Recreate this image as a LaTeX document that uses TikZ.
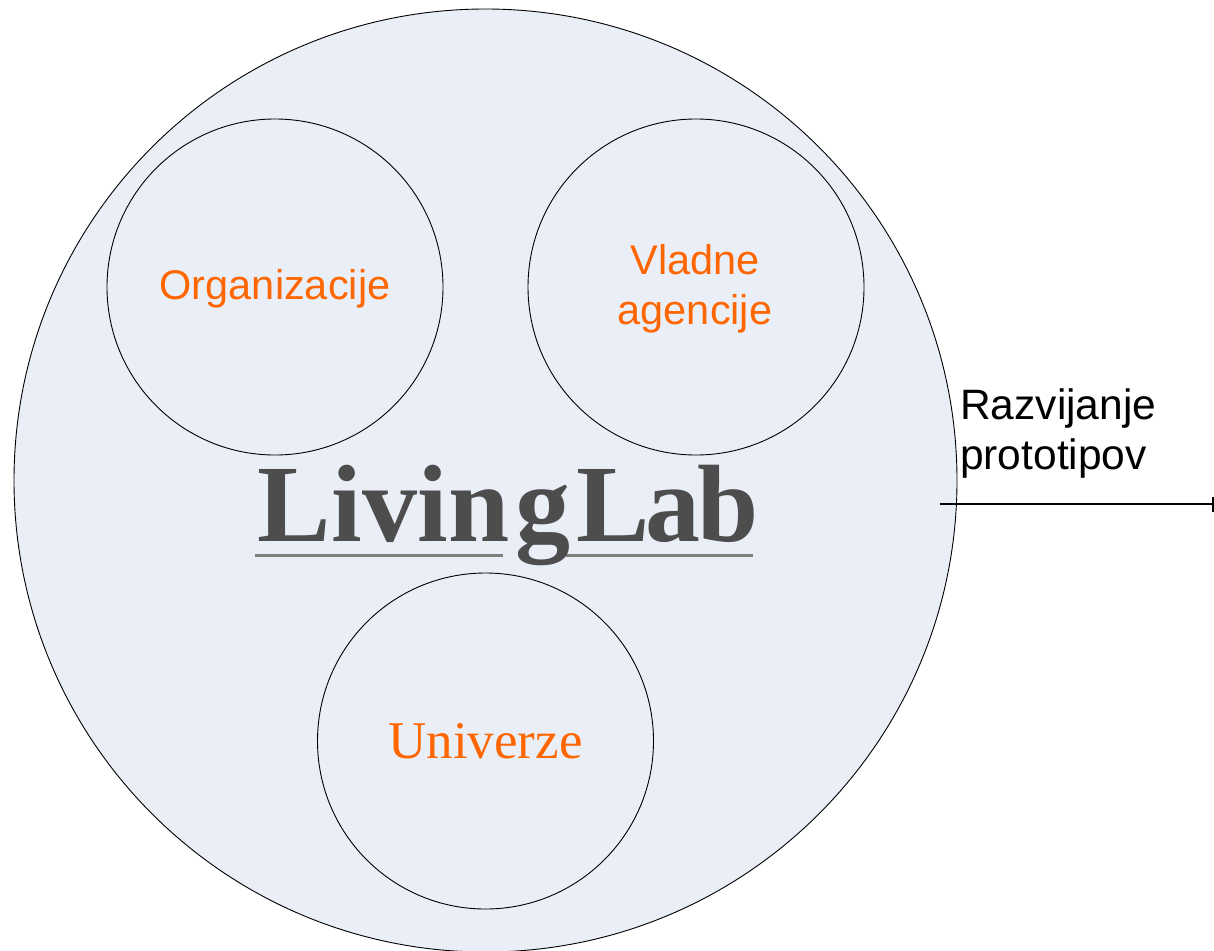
\documentclass[tikz,border=0pt]{standalone}
\usepackage{fontspec}
\setmainfont{Liberation Sans}
\newfontfamily\serifface{Liberation Serif}
\definecolor{bluefill}{HTML}{E9EEF7}
\definecolor{orangetxt}{HTML}{FF6600}
\definecolor{logogray}{HTML}{4D4D4D}
\definecolor{rulegray}{HTML}{7F7F7F}
\tikzset{
  ring/.style={circle,draw=black,line width=0.9pt,fill=bluefill,inner sep=0pt,minimum size=#1},
  member/.style={text=orangetxt,font=\fontsize{41.5}{50}\selectfont,align=center,inner sep=0pt},
}
\begin{document}
\begin{tikzpicture}[x=1pt,y=-1pt]
\useasboundingbox (0,0) rectangle (1214,950);
\clip (0,0) rectangle (1214,950);
\node[ring=943pt] (outer) at (485.5,480.5) {};
\node[ring=336pt] (org) at (275,287) {};
\node[ring=336pt] (gov) at (696,287) {};
\node[ring=336pt] (uni) at (485.5,741) {};
\node[member] (orgt) at (275,289) {Organizacije};
\node[member] (govt) at (695,289) {Vladne\\agencije};
\node[member,font=\serifface\fontsize{53}{60}\selectfont] (unit) at (485.5,741) {Univerze};
\fill[rulegray] (255,553.5) rectangle (503,556.5);
\fill[rulegray] (566,553.5) rectangle (753,556.5);
\node[text=logogray,font=\serifface\bfseries\addfontfeature{LetterSpace=0.5}\fontsize{110}{110}\selectfont,inner sep=0pt,anchor=base west] (logo) at (257,541) {Livin\kern5pt g\kern6pt L\kern-4pt a\kern-3pt b};
\node[font=\fontsize{42.5}{50}\selectfont,align=left,inner sep=0pt,anchor=north west] (proto) at (960,388) {Razvijanje\\prototipov};
\coordinate (a) at (940,504);
\coordinate (b) at (1213,504);
\draw[line width=1.2pt] (a) -- (b);
\draw[line width=1.2pt] ([yshift=-7.5pt]b) -- ([yshift=7.5pt]b);
\end{tikzpicture}
\end{document}
